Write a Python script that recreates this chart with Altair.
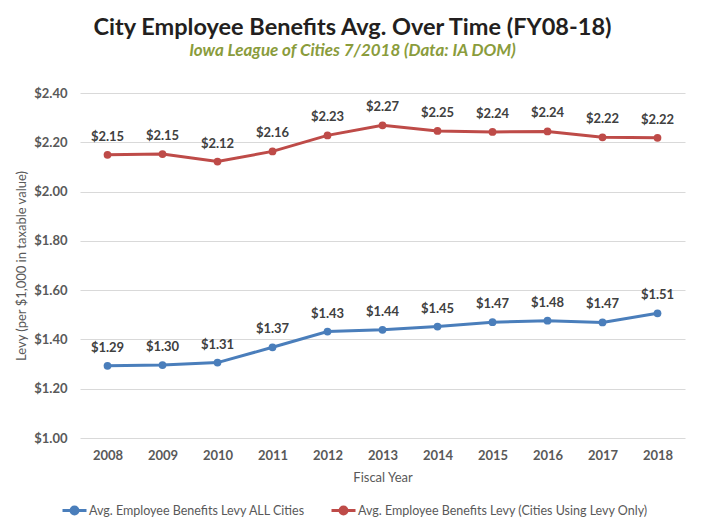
import altair as alt
import pandas as pd

years = [2008, 2009, 2010, 2011, 2012, 2013, 2014, 2015, 2016, 2017, 2018]
all_cities = [1.293, 1.296, 1.306, 1.368, 1.432, 1.439, 1.452, 1.470, 1.476, 1.469, 1.506]
levy_only = [2.149, 2.152, 2.122, 2.163, 2.228, 2.269, 2.246, 2.242, 2.244, 2.220, 2.218]
series_names = ["Avg. Employee Benefits Levy ALL Cities",
                "Avg. Employee Benefits Levy (Cities Using Levy Only)"]
colors = ["#4a7ebb", "#be4b48"]

rows = []
for y, v in zip(years, all_cities):
    rows.append({"year": str(y), "value": v, "series": series_names[0]})
for y, v in zip(years, levy_only):
    rows.append({"year": str(y), "value": v, "series": series_names[1]})
df = pd.DataFrame(rows)

FONT = "Lato"
GRAY = "#595959"

x_enc = alt.X("year:O", title="Fiscal Year",
              axis=alt.Axis(labelAngle=0, labelFontWeight="bold", labelFontSize=13,
                            labelColor=GRAY, labelFont=FONT, labelPadding=11,
                            ticks=False, domain=False, titleFont=FONT, titleFontSize=13,
                            titleColor=GRAY, titleFontWeight="normal", titlePadding=9))
y_enc = alt.Y("value:Q", title="Levy (per $1,000 in taxable value)",
              scale=alt.Scale(domain=[1.0, 2.4], nice=False, zero=False),
              axis=alt.Axis(values=[1.0, 1.2, 1.4, 1.6, 1.8, 2.0, 2.2, 2.4], format="$.2f",
                            labelFontWeight="bold", labelFontSize=13, labelColor=GRAY,
                            labelFont=FONT, labelPadding=13, ticks=False, domain=False,
                            gridColor="#d9d9d9", gridWidth=1,
                            titleFont=FONT, titleFontSize=13, titleColor=GRAY,
                            titleFontWeight="normal", titlePadding=5))

color_scale = alt.Scale(domain=series_names, range=colors)

base = alt.Chart(df).encode(x=x_enc, y=y_enc)

lines = base.mark_line(strokeWidth=3).encode(
    color=alt.Color("series:N", scale=color_scale, sort=series_names,
                    legend=alt.Legend(title=None, orient="none", direction="horizontal",
                                      legendX=-19, legendY=404,
                                      symbolType="M-1,0L1,0M-0.29,0A0.29,0.29 0 1,1 0.29,0A0.29,0.29 0 1,1 -0.29,0",
                                      symbolSize=576, symbolStrokeWidth=3,
                                      labelFont=FONT, labelFontSize=12.5, labelColor=GRAY,
                                      labelOffset=1, columnPadding=19, labelLimit=400))
)
points = base.mark_point(filled=True, size=60, opacity=1).encode(
    color=alt.Color("series:N", scale=color_scale, legend=None)
)
labels = base.mark_text(dy=-18, fontWeight="bold", fontSize=13, font=FONT, color="#404040").encode(
    text=alt.Text("value:Q", format="$.2f")
)

chart = alt.layer(lines, points, labels).properties(
    width=605, height=345,
    autosize=alt.AutoSizeParams(type="none"),
    padding={"left": 72, "top": 85, "right": 12, "bottom": 80},
    title=alt.TitleParams(
        text="City Employee Benefits Avg. Over Time (FY08-18)",
        subtitle="Iowa League of Cities 7/2018 (Data: IA DOM)",
        anchor="middle", frame="group", dx=-30, offset=29, dy=1,
        font=FONT, fontSize=23.5, fontWeight="bold", color="#231f20",
        subtitleFont=FONT, subtitleFontSize=17, subtitleFontWeight="bold",
        subtitleFontStyle="italic", subtitleColor="#8a9c3c", subtitlePadding=4)
).configure_view(stroke=None)

chart.save("out.html", embed_options={"renderer": "svg", "actions": False})
